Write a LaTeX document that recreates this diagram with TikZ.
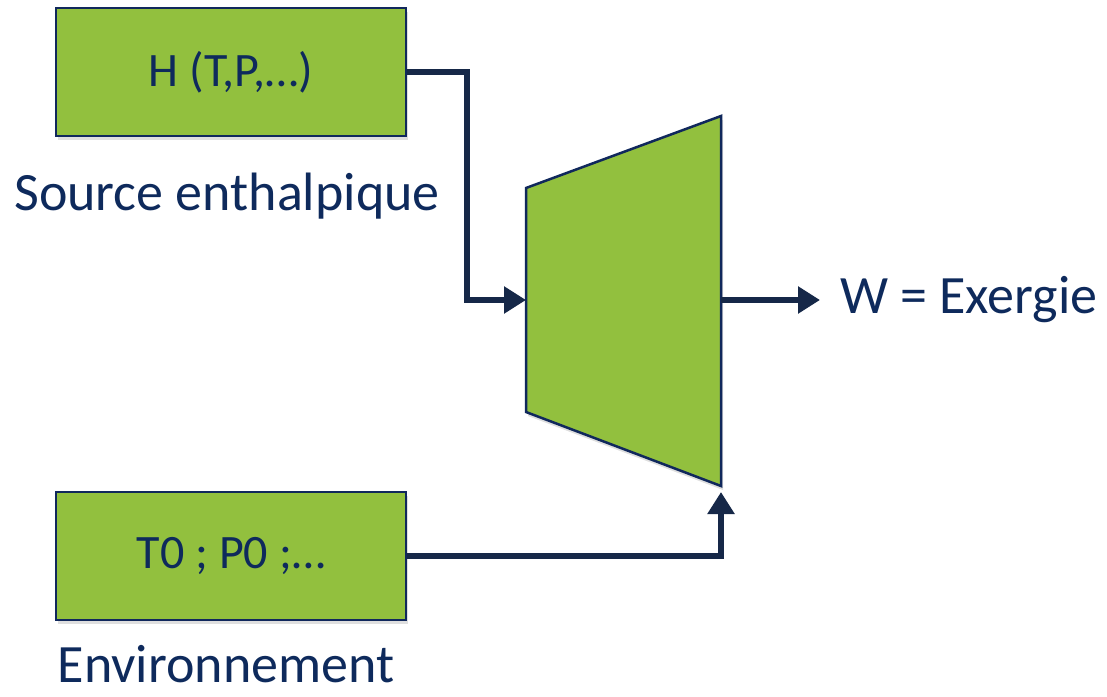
\documentclass[tikz,border=0pt]{standalone}
\usepackage{fontspec}
\setmainfont{Carlito}
\usetikzlibrary{positioning,arrows.meta,shadows}
\definecolor{boxgreen}{RGB}{146,192,62}
\definecolor{boxnavy}{RGB}{16,40,92}
\definecolor{arrownavy}{RGB}{22,40,72}
\definecolor{textnavy}{RGB}{14,42,92}

\begin{document}
\begin{tikzpicture}[x=1pt,y=-1pt,
  databox/.style={draw=boxnavy, line width=2.5pt, fill=boxgreen,
    minimum width=350pt, minimum height=128pt, inner sep=0pt,
    text=textnavy, font=\fontsize{48}{56}\selectfont,
    drop shadow={shadow xshift=2pt, shadow yshift=-4pt, opacity=0.25}},
  caption/.style={text=textnavy, font=\fontsize{54}{62}\selectfont, anchor=base, inner sep=0pt},
  flow/.style={draw=arrownavy, line width=6pt, -{Triangle[length=22pt,width=26pt]}}]

\useasboundingbox (0,0) rectangle (1107,696);

% input boxes
\node[databox] (hbox) at (231,72) {H (T,P,…)};
\node[databox] (ebox) at (231,556) {T0 ; P0 ;…};

% captions
\node[caption] (hlabel) at (227,210) {Source enthalpique};
\node[caption] (elabel) at (226,682) {Environnement};

% turbine
\coordinate (tlt) at (526,188);
\coordinate (tlb) at (526,412);
\coordinate (trt) at (721,116);
\coordinate (trb) at (721,486);
\draw[draw=boxnavy, line width=2.5pt, fill=boxgreen, line join=miter,
  drop shadow={shadow xshift=2pt, shadow yshift=-4pt, opacity=0.25}]
  (tlt) -- (trt) -- (trb) -- (tlb) -- cycle;
\coordinate (tin) at (526,300);
\coordinate (tout) at (721,300);
\coordinate (tlow) at (721,492);

% output
\node[text=textnavy, font=\fontsize{54}{62}\selectfont, anchor=west, inner sep=0pt]
  (wlabel) at (840,300) {W = Exergie};

% connectors
\draw[flow] (hbox.east) -- ++(60,0) |- (tin);
\draw[flow] (ebox.east) -| (tlow);
\draw[flow] (tout) -- (820,300);
\end{tikzpicture}
\end{document}
